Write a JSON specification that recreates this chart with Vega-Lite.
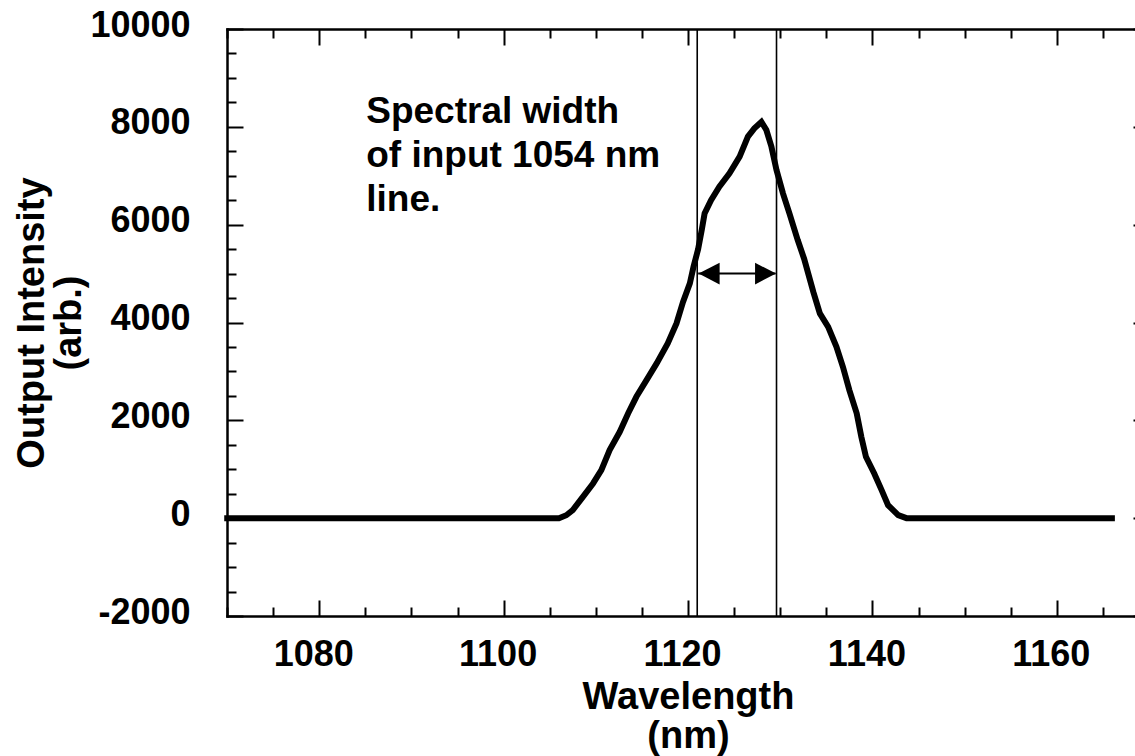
{
  "$schema": "https://vega.github.io/schema/vega-lite/v6.json",
  "width": 922,
  "height": 587,
  "autosize": {"type": "none"},
  "padding": {"left": 227, "top": 29, "right": -14, "bottom": 140},
  "background": "white",
  "config": {
    "view": {"stroke": null},
    "font": "Liberation Sans",
    "axis": {
      "grid": false,
      "domainColor": "black",
      "domainWidth": 2.5,
      "domainCap": "square",
      "tickColor": "black",
      "tickWidth": 2,
      "labelFont": "Liberation Sans",
      "labelFontWeight": "bold",
      "labelFontSize": 36,
      "labelColor": "black",
      "labelOverlap": false,
      "labelFlush": false,
      "titleFont": "Liberation Sans",
      "titleFontWeight": "bold",
      "titleFontSize": 38,
      "titleColor": "black"
    }
  },
  "datasets": {
    "spectrum": [
      {"wavelength": 1069.7, "intensity": 0},
      {"wavelength": 1106.0, "intensity": 0},
      {"wavelength": 1106.8, "intensity": 60},
      {"wavelength": 1107.5, "intensity": 164},
      {"wavelength": 1108.6, "intensity": 436},
      {"wavelength": 1109.7, "intensity": 710},
      {"wavelength": 1110.6, "intensity": 982},
      {"wavelength": 1111.5, "intensity": 1391},
      {"wavelength": 1112.6, "intensity": 1765},
      {"wavelength": 1113.5, "intensity": 2141},
      {"wavelength": 1114.4, "intensity": 2481},
      {"wavelength": 1115.5, "intensity": 2822},
      {"wavelength": 1116.6, "intensity": 3164},
      {"wavelength": 1117.8, "intensity": 3573},
      {"wavelength": 1118.75, "intensity": 3982},
      {"wavelength": 1119.46, "intensity": 4420},
      {"wavelength": 1120.2, "intensity": 4800},
      {"wavelength": 1120.6, "intensity": 5140},
      {"wavelength": 1121.1, "intensity": 5500},
      {"wavelength": 1121.5, "intensity": 5900},
      {"wavelength": 1121.8, "intensity": 6230},
      {"wavelength": 1122.5, "intensity": 6500},
      {"wavelength": 1123.4, "intensity": 6775},
      {"wavelength": 1124.5, "intensity": 7050},
      {"wavelength": 1125.6, "intensity": 7390},
      {"wavelength": 1126.5, "intensity": 7800},
      {"wavelength": 1127.2, "intensity": 7970},
      {"wavelength": 1127.96, "intensity": 8100},
      {"wavelength": 1128.5, "intensity": 7935},
      {"wavelength": 1129.05, "intensity": 7593},
      {"wavelength": 1129.6, "intensity": 7117},
      {"wavelength": 1130.3, "intensity": 6640},
      {"wavelength": 1131.0, "intensity": 6231},
      {"wavelength": 1131.9, "intensity": 5685},
      {"wavelength": 1132.6, "intensity": 5300},
      {"wavelength": 1133.6, "intensity": 4620},
      {"wavelength": 1134.3, "intensity": 4186},
      {"wavelength": 1135.2, "intensity": 3912},
      {"wavelength": 1136.1, "intensity": 3503},
      {"wavelength": 1136.8, "intensity": 3094},
      {"wavelength": 1137.5, "intensity": 2618},
      {"wavelength": 1138.3, "intensity": 2141},
      {"wavelength": 1138.8, "intensity": 1663},
      {"wavelength": 1139.3, "intensity": 1254},
      {"wavelength": 1140.2, "intensity": 914},
      {"wavelength": 1141.0, "intensity": 573},
      {"wavelength": 1141.7, "intensity": 266},
      {"wavelength": 1142.8, "intensity": 61},
      {"wavelength": 1143.7, "intensity": 0},
      {"wavelength": 1166.3, "intensity": 0}
    ],
    "markers": [
      {"wavelength": 1121.0},
      {"wavelength": 1129.6}
    ],
    "arrow": [
      {"start": 1121.1, "end": 1129.5, "intensity": 5000}
    ],
    "heads": [
      {"wavelength": 1121.15, "intensity": 5000, "side": "left"},
      {"wavelength": 1129.55, "intensity": 5000, "side": "right"}
    ],
    "note": [
      {"wavelength": 1085.1, "intensity": 8078, "label": "Spectral width\nof input 1054 nm\nline."}
    ]
  },
  "layer": [
    {
      "data": {"name": "spectrum"},
      "mark": {"type": "line", "color": "black", "strokeWidth": 6, "strokeJoin": "miter"},
      "encoding": {
        "x": {
          "field": "wavelength",
          "type": "quantitative",
          "scale": {"domain": [1070, 1170], "nice": false, "zero": false},
          "axis": {
            "orient": "bottom",
            "values": [1070, 1075, 1080, 1085, 1090, 1095, 1100, 1105, 1110, 1115, 1120, 1125, 1130, 1135, 1140, 1145, 1150, 1155, 1160, 1165, 1170],
            "tickSize": {"condition": {"test": "datum.value % 20 === 0", "value": -16}, "value": -9},
            "labelExpr": "datum.value % 20 === 0 ? '' + datum.value : ''",
            "labelPadding": 37,
            "labelOffset": -6,
            "title": ["Wavelength", "(nm)"],
            "titleBaseline": "alphabetic",
            "titleY": 92,
            "titleLineHeight": 39
          }
        },
        "y": {
          "field": "intensity",
          "type": "quantitative",
          "scale": {"domain": [-2000, 10000], "nice": false, "zero": false},
          "axis": {
            "orient": "left",
            "values": [-2000, -1500, -1000, -500, 0, 500, 1000, 1500, 2000, 2500, 3000, 3500, 4000, 4500, 5000, 5500, 6000, 6500, 7000, 7500, 8000, 8500, 9000, 9500, 10000],
            "tickSize": {"condition": {"test": "datum.value % 2000 === 0", "value": -16}, "value": -9},
            "labelExpr": "datum.value % 2000 === 0 ? '' + datum.value : ''",
            "labelPadding": 53,
            "labelOffset": -4,
            "title": ["Output Intensity", "(arb.)"],
            "titleBaseline": "alphabetic",
            "titleX": -184,
            "titleLineHeight": 37
          }
        }
      }
    },
    {
      "data": {"name": "heads"},
      "mark": {"type": "point", "filled": true, "opacity": 1, "color": "black", "strokeWidth": 0, "size": 441},
      "encoding": {
        "x": {
          "field": "wavelength",
          "type": "quantitative",
          "scale": {"domain": [1070, 1170], "nice": false, "zero": false},
          "axis": {
            "orient": "top",
            "values": [1070, 1075, 1080, 1085, 1090, 1095, 1100, 1105, 1110, 1115, 1120, 1125, 1130, 1135, 1140, 1145, 1150, 1155, 1160, 1165, 1170],
            "tickSize": {"condition": {"test": "datum.value % 20 === 0", "value": -16}, "value": -9},
            "labels": false,
            "title": null
          }
        },
        "y": {
          "field": "intensity",
          "type": "quantitative",
          "scale": {"domain": [-2000, 10000], "nice": false, "zero": false},
          "axis": {
            "orient": "right",
            "values": [-2000, -1500, -1000, -500, 0, 500, 1000, 1500, 2000, 2500, 3000, 3500, 4000, 4500, 5000, 5500, 6000, 6500, 7000, 7500, 8000, 8500, 9000, 9500, 10000],
            "tickSize": {"condition": {"test": "datum.value % 2000 === 0", "value": -16}, "value": -9},
            "labels": false,
            "title": null
          }
        },
        "shape": {
          "field": "side",
          "type": "nominal",
          "scale": {"domain": ["left", "right"], "range": ["M0,0L2,-1.03L2,1.03Z", "M0,0L-2,-1.03L-2,1.03Z"]},
          "legend": null
        }
      }
    },
    {
      "data": {"name": "markers"},
      "mark": {"type": "rule", "color": "black", "strokeWidth": 1.6},
      "encoding": {
        "x": {"field": "wavelength", "type": "quantitative", "axis": null}
      }
    },
    {
      "data": {"name": "arrow"},
      "mark": {"type": "rule", "color": "black", "strokeWidth": 2},
      "encoding": {
        "x": {"field": "start", "type": "quantitative", "axis": null},
        "x2": {"field": "end"},
        "y": {"field": "intensity", "type": "quantitative", "axis": null}
      }
    },
    {
      "data": {"name": "note"},
      "mark": {"type": "text", "align": "left", "baseline": "alphabetic", "font": "Liberation Sans", "fontWeight": "bold", "fontSize": 37, "lineHeight": 44, "lineBreak": "\n", "color": "black"},
      "encoding": {
        "x": {"field": "wavelength", "type": "quantitative", "axis": null},
        "y": {"field": "intensity", "type": "quantitative", "axis": null},
        "text": {"field": "label"}
      }
    }
  ],
  "resolve": {"axis": {"x": "independent", "y": "independent"}}
}
